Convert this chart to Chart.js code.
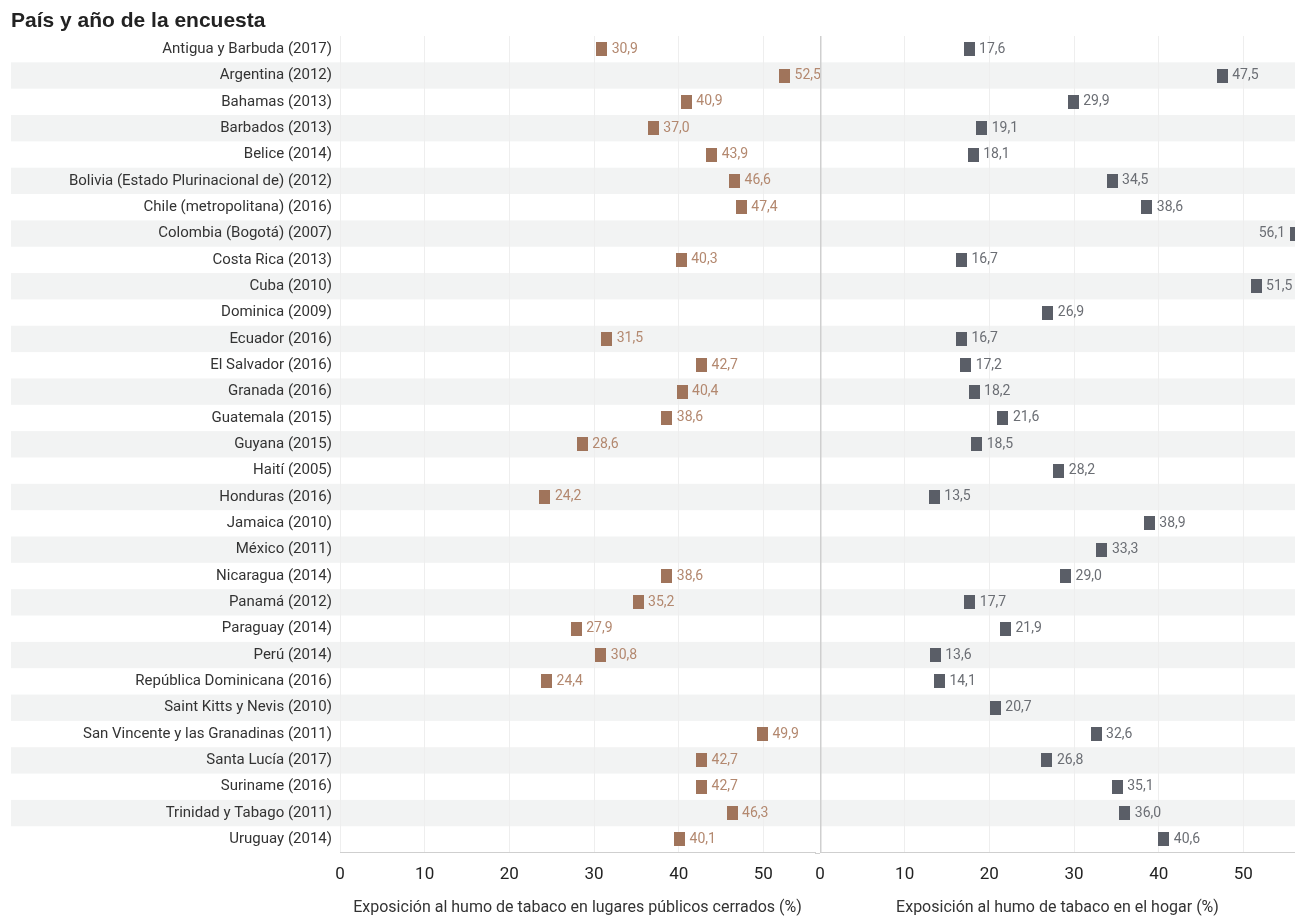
<!DOCTYPE html>
<html>
<head>
<meta charset="utf-8">
<script src="https://cdn.jsdelivr.net/npm/chart.js@4.4.1/dist/chart.umd.min.js"></script>
<style>
  body { margin: 0; background: #fff; }
  #wrap { position: relative; width: 1295px; height: 916px; }
  #left { position: absolute; left: 0; top: 0; }
  #right { position: absolute; left: 800px; top: 0; }
</style>
</head>
<body>
<div id="wrap">
  <canvas id="left" width="820" height="916"></canvas>
  <canvas id="right" width="495" height="916"></canvas>
</div>
<script>
// categories, top to bottom
const countries = [
  'Antigua y Barbuda (2017)', 'Argentina (2012)', 'Bahamas (2013)', 'Barbados (2013)',
  'Belice (2014)', 'Bolivia (Estado Plurinacional de) (2012)', 'Chile (metropolitana) (2016)',
  'Colombia (Bogotá) (2007)', 'Costa Rica (2013)', 'Cuba (2010)', 'Dominica (2009)',
  'Ecuador (2016)', 'El Salvador (2016)', 'Granada (2016)', 'Guatemala (2015)', 'Guyana (2015)',
  'Haití (2005)', 'Honduras (2016)', 'Jamaica (2010)', 'México (2011)', 'Nicaragua (2014)',
  'Panamá (2012)', 'Paraguay (2014)', 'Perú (2014)', 'República Dominicana (2016)',
  'Saint Kitts y Nevis (2010)', 'San Vincente y las Granadinas (2011)', 'Santa Lucía (2017)',
  'Suriname (2016)', 'Trinidad y Tabago (2011)', 'Uruguay (2014)'
];

// exposición en lugares públicos cerrados (%)
const publicos = [30.9, 52.5, 40.9, 37.0, 43.9, 46.6, 47.4, null, 40.3, null, null,
  31.5, 42.7, 40.4, 38.6, 28.6, null, 24.2, null, null, 38.6,
  35.2, 27.9, 30.8, 24.4, null, 49.9, 42.7, 42.7, 46.3, 40.1];

// exposición en el hogar (%)
const hogar = [17.6, 47.5, 29.9, 19.1, 18.1, 34.5, 38.6, 56.1, 16.7, 51.5, 26.9,
  16.7, 17.2, 18.2, 21.6, 18.5, 28.2, 13.5, 38.9, 33.3, 29.0,
  17.7, 21.9, 13.6, 14.1, 20.7, 32.6, 26.8, 35.1, 36.0, 40.6];

const xTicks = [0, 10, 20, 30, 40, 50];
const xMax = 56.1;

const title = 'País y año de la encuesta';
const xTitleLeft = 'Exposición al humo de tabaco en lugares públicos cerrados (%)';
const xTitleRight = 'Exposición al humo de tabaco en el hogar (%)';

const stripeColor = '#f2f3f3';
const gridColor = '#eeeeee';
const regular = 'Roboto, "Liberation Sans", sans-serif';

// small rectangle used as the marker
function marker(color) {
  const c = document.createElement('canvas');
  c.width = 11; c.height = 14;
  const g = c.getContext('2d');
  g.fillStyle = color;
  g.fillRect(0, 0, 11, 14);
  return c;
}

function points(values) {
  const out = [];
  values.forEach((v, i) => { if (v !== null) out.push({ x: v, y: countries[i] }); });
  return out;
}

// stripes behind alternate rows (drawn before the scales)
function stripes(isLeft) {
  return {
    id: 'stripes',
    beforeDraw(chart) {
      const { ctx, chartArea, scales } = chart;
      const y = scales.y;
      const h = (chartArea.bottom - chartArea.top) / countries.length;
      const x0 = isLeft ? 11 : chartArea.left;
      ctx.save();
      ctx.fillStyle = stripeColor;
      countries.forEach((c, i) => {
        if (i % 2 === 1) {
          const yc = y.getPixelForValue(i);
          ctx.fillRect(x0, yc - h / 2, chart.width - x0, h);
        }
      });
      ctx.restore();
    }
  };
}

// value labels next to the markers
function valueLabels(color) {
  return {
    id: 'valueLabels',
    afterDatasetsDraw(chart) {
      const { ctx, chartArea } = chart;
      const meta = chart.getDatasetMeta(0);
      const data = chart.data.datasets[0].data;
      ctx.save();
      ctx.font = '14px ' + regular;
      ctx.fillStyle = color;
      ctx.textBaseline = 'middle';
      meta.data.forEach((el, i) => {
        const txt = data[i].x.toFixed(1).replace('.', ',');
        const w = ctx.measureText(txt).width;
        if (el.x + 10 + w > chartArea.right + 10) {
          ctx.textAlign = 'right';
          ctx.fillText(txt, el.x - 10, el.y);
        } else {
          ctx.textAlign = 'left';
          ctx.fillText(txt, el.x + 10, el.y);
        }
      });
      ctx.restore();
    }
  };
}

const extras = {
  id: 'extras',
  afterDraw(chart) {
    const { ctx, chartArea } = chart;
    ctx.save();
    ctx.font = 'bold 21px "Liberation Sans", Arial, sans-serif';
    ctx.fillStyle = '#222';
    ctx.textBaseline = 'middle';
    ctx.textAlign = 'left';
    ctx.fillText(title, 11, 21);
    // close the small gap in the bottom axis line
    ctx.strokeStyle = '#cfcfcf';
    ctx.lineWidth = 1;
    ctx.beginPath();
    ctx.moveTo(chartArea.right, Math.round(chartArea.bottom) + 0.5);
    ctx.lineTo(chart.width, Math.round(chartArea.bottom) + 0.5);
    ctx.stroke();
    ctx.restore();
  }
};

const rightLine = {
  id: 'rightLine',
  afterDatasetsDraw(chart) {
    const { ctx, chartArea } = chart;
    ctx.save();
    ctx.strokeStyle = '#cfcfcf';
    ctx.lineWidth = 1.5;
    ctx.beginPath();
    ctx.moveTo(chartArea.left + 0.75, chartArea.top);
    ctx.lineTo(chartArea.left + 0.75, chartArea.bottom);
    ctx.stroke();
    ctx.restore();
  }
};

function xScale(titleText) {
  return {
    type: 'linear',
    min: 0,
    max: xMax,
    afterBuildTicks: s => { s.ticks = xTicks.map(v => ({ value: v })); },
    grid: { color: gridColor, drawTicks: false },
    border: { color: '#cfcfcf' },
    ticks: { color: '#222', font: { family: regular, size: 17 }, padding: 12 },
    title: {
      display: true, text: titleText, color: '#333',
      font: { family: regular, size: 16, lineHeight: 1 }, padding: { top: 3, bottom: 0 }
    }
  };
}

function build(id, values, markerColor, labelColor, isLeft, plugins) {
  return new Chart(document.getElementById(id), {
    type: 'scatter',
    data: {
      datasets: [{
        data: points(values),
        pointStyle: marker(markerColor),
        pointRadius: 7,
        pointHoverRadius: 7
      }]
    },
    options: {
      responsive: false,
      animation: false,
      events: [],
      layout: { autoPadding: false, padding: { top: 36, right: isLeft ? 5 : 0, bottom: 0, left: isLeft ? 0 : 20 } },
      plugins: { legend: { display: false }, tooltip: { enabled: false } },
      scales: {
        x: xScale(isLeft ? xTitleLeft : xTitleRight),
        y: {
          type: 'category',
          labels: countries,
          offset: true,
          display: isLeft,
          afterFit: s => { if (isLeft) s.width = 340; },
          grid: { display: false },
          border: { display: false },
          ticks: {
            color: '#333', font: { family: regular, size: 15, lineHeight: 1 }, padding: 0,
            autoSkip: false
          }
        }
      }
    },
    plugins: plugins.concat([stripes(isLeft), valueLabels(labelColor)])
  });
}

build('left', publicos, '#a0745b', '#b3886f', true, [extras]);
build('right', hogar, '#5a5e67', '#6b6e74', false, [rightLine]);
</script>
</body>
</html>
